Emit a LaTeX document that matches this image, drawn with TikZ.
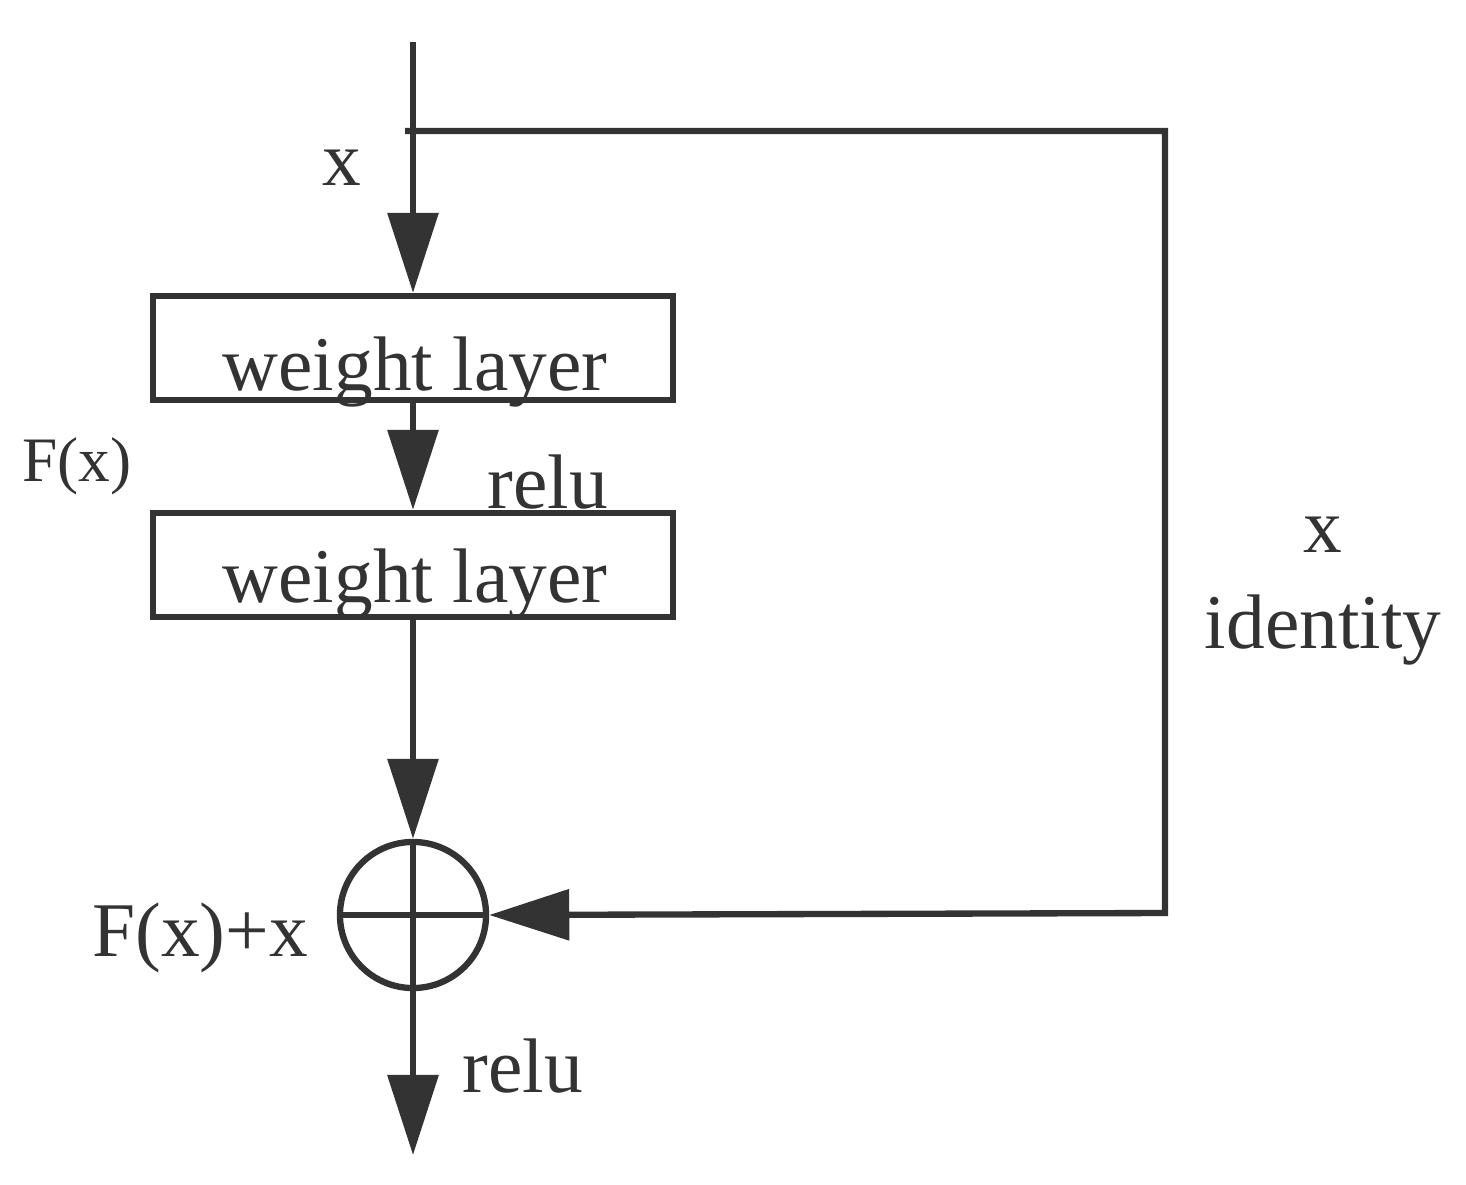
\documentclass[tikz,border=0pt]{standalone}
\usepackage{fontspec}
\setmainfont{Liberation Serif}
\usetikzlibrary{arrows.meta}
\definecolor{ink}{HTML}{333333}
\begin{document}
\begin{tikzpicture}[x=0.01cm,y=-0.01cm,
  line width=1.8pt, draw=ink,
  arr/.style={-{Triangle[length=0.8cm,width=0.5cm]}},
  lbl/.style={text=ink,font=\fontsize{22}{24}\selectfont,inner sep=0},
  box/.style={draw=ink,minimum width=5.2cm,minimum height=1.04cm,inner sep=0}]
\useasboundingbox (0,0) rectangle (1466,1184);
\coordinate (top) at (413,42);
\coordinate (split) at (413,131);
\coordinate (sk) at (405,131);
\coordinate (c1) at (1165,131);
\coordinate (c2) at (1165,913);
\node[box] (b1) at (413,348) {};
\node[lbl] (t1) at (415,372) {weight layer};
\node[box] (b2) at (413,565) {};
\node[lbl] (t2) at (415,584) {weight layer};
\node[draw=ink,circle,minimum size=1.46cm,inner sep=0,line width=1.8pt] (sum) at (413,915) {};
\coordinate (out) at (413,1155);
\draw (sum.north) -- (sum.south) (sum.west) -- (sum.east);
\draw[arr] (top) -- (b1.north);
\draw[arr] (b1.south) -- (b2.north);
\draw[arr] (b2.south) -- (sum.north);
\draw[arr] (sum.south) -- (out);
\draw[arr] (sk) -- (c1) -- (c2) -- (sum.east);
\node[lbl] (lx) at (342,168) {x};
\node[lbl,font=\fontsize{18}{20}\selectfont] (lf) at (77,466) {F(x)};
\node[lbl] (lr1) at (548,482) {relu};
\node[lbl] (lx2) at (1323,535) {x};
\node[lbl] (lid) at (1323,630) {identity};
\node[lbl] (lfx) at (200,938) {F(x)+x};
\node[lbl] (lr2) at (523,1066) {relu};
\end{tikzpicture}
\end{document}
